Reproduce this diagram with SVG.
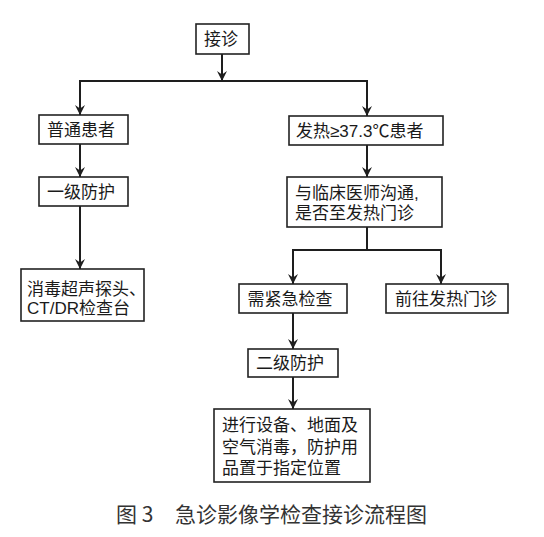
<svg xmlns="http://www.w3.org/2000/svg" width="544" height="537" viewBox="0 0 544 537">
<defs>
<marker id="arr" markerUnits="userSpaceOnUse" viewBox="-10 -6 11 12" markerWidth="11" markerHeight="12" refX="0" refY="0" orient="auto">
<path d="M0,0 L-10,-5 L-6.5,0 L-10,5 z" fill="#1e1e1e"/>
</marker>
<style>
.box{fill:#fff;stroke:#222;stroke-width:1.6}
.t{font-family:"Liberation Sans","Noto Sans CJK SC",sans-serif;font-size:17px;fill:#1a1a1a}
.c{text-anchor:middle}
.ln{stroke:#1e1e1e;stroke-width:2;fill:none}
.ar{marker-end:url(#arr)}
.cap{font-family:"Noto Sans CJK SC",sans-serif;font-size:21px;fill:#333}
</style>
</defs>
<rect width="544" height="537" fill="#fff"/>
<g id="connectors">
<line class="ln ar" x1="222" y1="54" x2="222" y2="81"/>
<line class="ln" x1="79" y1="81" x2="368" y2="81"/>
<line class="ln ar" x1="80" y1="81" x2="80" y2="115"/>
<line class="ln ar" x1="367" y1="81" x2="367" y2="116"/>
<line class="ln ar" x1="80" y1="144" x2="80" y2="177"/>
<line class="ln ar" x1="367" y1="145" x2="367" y2="177"/>
<line class="ln ar" x1="80" y1="206" x2="80" y2="269"/>
<line class="ln" x1="367" y1="227" x2="367" y2="250"/>
<line class="ln" x1="292" y1="250" x2="442" y2="250"/>
<line class="ln ar" x1="293" y1="250" x2="293" y2="284"/>
<line class="ln ar" x1="441" y1="250" x2="441" y2="284"/>
<line class="ln ar" x1="293" y1="313" x2="293" y2="349"/>
<line class="ln ar" x1="293" y1="377" x2="293" y2="409"/>
</g>
<g id="n1"><rect class="box" x="196" y="24" width="53" height="30"/><text class="t c" x="221" y="45">接诊</text></g>
<g id="n2"><rect class="box" x="39" y="115" width="89" height="29"/><text class="t c" x="81" y="136">普通患者</text></g>
<g id="n3"><rect class="box" x="289" y="116" width="154" height="29"/><text class="t" x="296" y="137">发热≥37.3℃患者</text></g>
<g id="n4"><rect class="box" x="39" y="177" width="89" height="29"/><text class="t c" x="81" y="198">一级防护</text></g>
<g id="n5"><rect class="box" x="287" y="177" width="155" height="50"/><text class="t" x="295" y="199">与临床医师沟通,</text><text class="t" x="295" y="219">是否至发热门诊</text></g>
<g id="n6"><rect class="box" x="21" y="269" width="123" height="52"/><text class="t" x="27" y="295">消毒超声探头、</text><text class="t" x="27" y="314">CT/DR检查台</text></g>
<g id="n7"><rect class="box" x="239" y="284" width="108" height="29"/><text class="t c" x="290" y="305">需紧急检查</text></g>
<g id="n8"><rect class="box" x="386" y="284" width="122" height="29"/><text class="t c" x="446" y="305">前往发热门诊</text></g>
<g id="n9"><rect class="box" x="248" y="349" width="90" height="28"/><text class="t c" x="290" y="369">二级防护</text></g>
<g id="n10"><rect class="box" x="214" y="409" width="156" height="73"/><text class="t" x="222" y="431">进行设备、地面及</text><text class="t" x="222" y="453">空气消毒，防护用</text><text class="t" x="222" y="474">品置于指定位置</text></g>
<text class="cap" x="116" y="522">图 3</text>
<text class="cap" x="175" y="522">急诊影像学检查接诊流程图</text>
</svg>
